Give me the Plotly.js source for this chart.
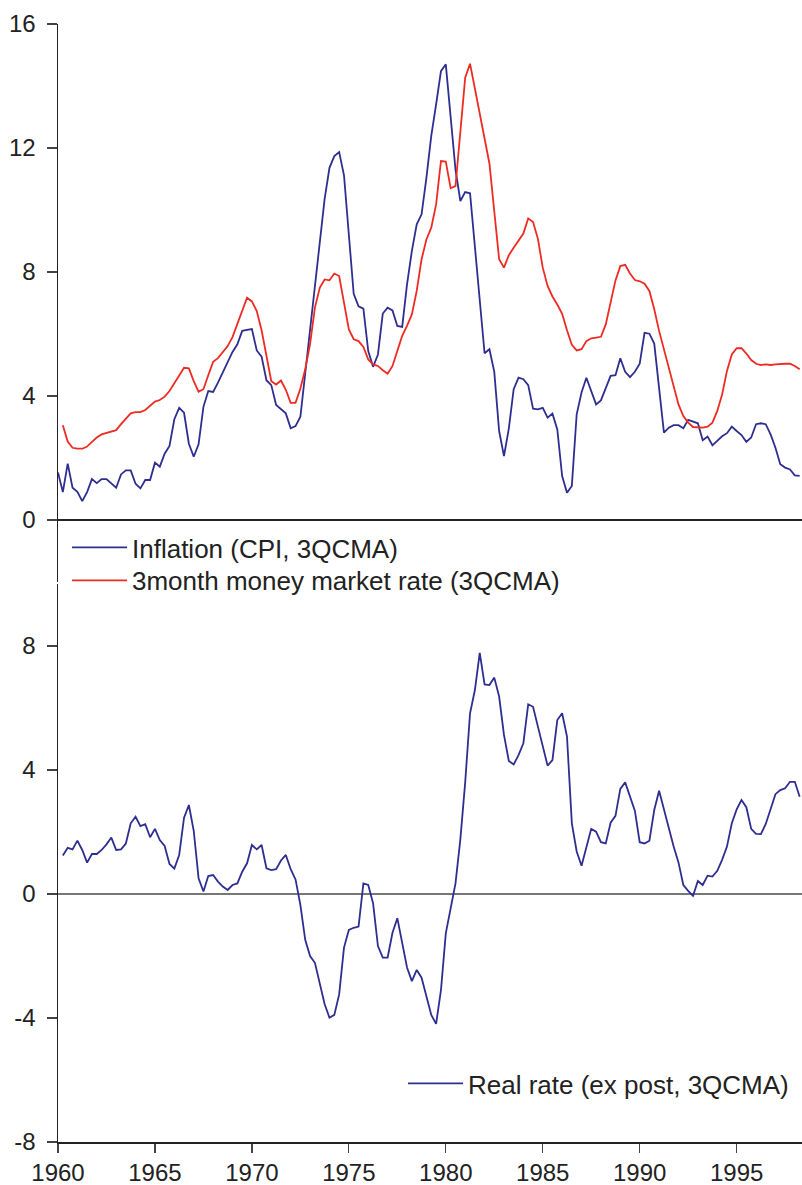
<!DOCTYPE html>
<html>
<head>
<meta charset="utf-8">
<script src="https://cdn.plot.ly/plotly-3.0.1.min.js"></script>
<style>
  html, body { margin: 0; padding: 0; background: #ffffff; }
  #chart { width: 802px; height: 1185px; }
</style>
</head>
<body>
<div id="chart"></div>
<script>
// Quarterly observations, first observation 1960Q1
const startYear = 1960;
const quarterStep = 0.25;

// Inflation (CPI, 3QCMA), %
const inflation = [
  1.53, 0.90, 1.82, 1.04, 0.91, 0.61, 0.90, 1.32, 1.19, 1.32,
  1.32, 1.18, 1.04, 1.47, 1.60, 1.60, 1.17, 1.02, 1.29, 1.29,
  1.85, 1.72, 2.14, 2.39, 3.25, 3.62, 3.46, 2.46, 2.04, 2.44,
  3.65, 4.16, 4.13, 4.43, 4.75, 5.07, 5.42, 5.67, 6.10, 6.13,
  6.16, 5.47, 5.27, 4.51, 4.35, 3.71, 3.56, 3.44, 2.96, 3.03,
  3.33, 4.70, 6.20, 7.50, 9.00, 10.35, 11.36, 11.74, 11.87, 11.12,
  9.20, 7.30, 6.89, 6.82, 5.45, 4.94, 5.34, 6.66, 6.85, 6.76,
  6.26, 6.23, 7.60, 8.68, 9.54, 9.86, 11.04, 12.39, 13.41, 14.48,
  14.70, 13.00, 11.30, 10.29, 10.58, 10.54, 8.82, 7.10, 5.38, 5.51,
  4.78, 2.87, 2.06, 2.95, 4.22, 4.59, 4.54, 4.35, 3.59, 3.57,
  3.62, 3.30, 3.43, 2.92, 1.42, 0.88, 1.10, 3.41, 4.11, 4.59,
  4.16, 3.73, 3.86, 4.27, 4.65, 4.67, 5.22, 4.78, 4.61, 4.78,
  5.04, 6.04, 6.01, 5.69, 4.20, 2.82, 2.98, 3.06, 3.06, 2.96,
  3.23, 3.17, 3.12, 2.57, 2.69, 2.41, 2.57, 2.70, 2.80, 3.01,
  2.87, 2.74, 2.52, 2.66, 3.09, 3.12, 3.09, 2.76, 2.33, 1.80,
  1.69, 1.63, 1.44, 1.42
];

// 3month money market rate (3QCMA), %
const moneyRate = [
  null, 3.06, 2.53, 2.33, 2.30, 2.30, 2.37, 2.52, 2.66, 2.76,
  2.81, 2.86, 2.90, 3.09, 3.28, 3.44, 3.48, 3.48, 3.55, 3.70,
  3.82, 3.87, 3.98, 4.16, 4.41, 4.70, 4.91, 4.89, 4.48, 4.14,
  4.22, 4.67, 5.10, 5.22, 5.40, 5.61, 5.90, 6.31, 6.76, 7.17,
  7.05, 6.74, 6.12, 5.29, 4.48, 4.37, 4.50, 4.20, 3.78, 3.78,
  4.24, 4.86, 5.67, 6.85, 7.49, 7.76, 7.73, 7.95, 7.87, 7.01,
  6.15, 5.83, 5.77, 5.58, 5.18, 5.02, 4.97, 4.83, 4.72, 4.97,
  5.45, 5.94, 6.26, 6.63, 7.39, 8.41, 9.05, 9.43, 10.18, 11.58,
  11.56, 10.70, 10.77, 12.40, 14.27, 14.72, 13.92, 13.19, 12.33, 11.50,
  9.96, 8.41, 8.14, 8.54, 8.78, 9.01, 9.24, 9.73, 9.61, 9.07,
  8.14, 7.55, 7.21, 6.95, 6.65, 6.12, 5.65, 5.47, 5.51, 5.77,
  5.86, 5.88, 5.91, 6.31, 6.99, 7.73, 8.19, 8.23, 7.95, 7.74,
  7.70, 7.62, 7.39, 6.80, 6.10, 5.51, 4.91, 4.32, 3.73, 3.35,
  3.14, 3.00, 2.98, 2.98, 3.01, 3.14, 3.52, 4.05, 4.81, 5.34,
  5.54, 5.54, 5.37, 5.16, 5.04, 5.00, 5.02, 5.00, 5.02, 5.04,
  5.04, 5.04, 4.97, 4.86
];

// Real rate (ex post, 3QCMA), %
const realRate = [
  null, 1.24, 1.49, 1.44, 1.72, 1.42, 1.01, 1.29, 1.29, 1.42,
  1.60, 1.82, 1.42, 1.44, 1.63, 2.28, 2.49, 2.19, 2.25, 1.83,
  2.10, 1.74, 1.55, 0.97, 0.82, 1.26, 2.46, 2.87, 2.04, 0.51,
  0.08, 0.58, 0.61, 0.40, 0.24, 0.13, 0.29, 0.34, 0.72, 0.99,
  1.58, 1.44, 1.58, 0.83, 0.77, 0.80, 1.08, 1.26, 0.80, 0.47,
  -0.35, -1.48, -2.00, -2.22, -2.88, -3.55, -3.99, -3.90, -3.24, -1.73,
  -1.16, -1.09, -1.05, 0.34, 0.29, -0.30, -1.68, -2.05, -2.05, -1.25,
  -0.78, -1.54, -2.37, -2.81, -2.45, -2.70, -3.31, -3.90, -4.19, -3.10,
  -1.27, -0.52, 0.34, 1.76, 3.60, 5.83, 6.58, 7.78, 6.76, 6.74,
  6.98, 6.37, 5.13, 4.29, 4.18, 4.48, 4.86, 6.12, 6.04, 5.40,
  4.75, 4.14, 4.32, 5.61, 5.83, 5.08, 2.28, 1.37, 0.91, 1.51,
  2.10, 2.01, 1.67, 1.63, 2.30, 2.52, 3.39, 3.60, 3.14, 2.69,
  1.67, 1.63, 1.72, 2.71, 3.33, 2.71, 2.06, 1.53, 1.02, 0.29,
  0.10, -0.06, 0.42, 0.29, 0.59, 0.56, 0.75, 1.10, 1.53, 2.28,
  2.73, 3.03, 2.80, 2.10, 1.94, 1.93, 2.26, 2.73, 3.22, 3.35,
  3.41, 3.62, 3.62, 3.14
];

// Series names and tick labels
const seriesNames = ['Inflation (CPI, 3QCMA)', '3month money market rate (3QCMA)', 'Real rate (ex post, 3QCMA)'];
const xTickVals = [1960, 1965, 1970, 1975, 1980, 1985, 1990, 1995];
const xTickText = ['1960', '1965', '1970', '1975', '1980', '1985', '1990', '1995'];
const topTickVals = [0, 4, 8, 12, 16];
const topTickText = ['0', '4', '8', '12', '16'];
const bottomTickVals = [-8, -4, 0, 4, 8];
const bottomTickText = ['-8', '-4', '0', '4', '8'];

const BLUE = '#2e2e90';
const RED = '#ee2b22';
const FONT = 'Liberation Sans, Arial, Helvetica, sans-serif';

const traces = [
  {
    type: 'scatter', mode: 'lines', name: seriesNames[0],
    x0: startYear, dx: quarterStep, y: inflation,
    xaxis: 'x', yaxis: 'y', legend: 'legend',
    line: {color: BLUE, width: 1.8}
  },
  {
    type: 'scatter', mode: 'lines', name: seriesNames[1],
    x0: startYear, dx: quarterStep, y: moneyRate,
    xaxis: 'x', yaxis: 'y', legend: 'legend3',
    line: {color: RED, width: 1.8}
  },
  {
    type: 'scatter', mode: 'lines', name: seriesNames[2],
    x0: startYear, dx: quarterStep, y: realRate,
    xaxis: 'x', yaxis: 'y2', legend: 'legend2',
    line: {color: BLUE, width: 1.8}
  }
];

const yCommon = {
  anchor: 'x',
  showgrid: false,
  showline: true, linecolor: '#222', linewidth: 1.5,
  ticks: 'outside', ticklen: 10, tickwidth: 1.2, tickcolor: '#444',
  tickmode: 'array',
  zeroline: true, zerolinewidth: 1.4,
  tickfont: {family: FONT, size: 24, color: '#222'},
  ticklabelstandoff: 6,
  fixedrange: true
};

const legendCommon = {
  xanchor: 'left', yanchor: 'top',
  bgcolor: 'rgba(0,0,0,0)', borderwidth: 0,
  itemwidth: 55,
  font: {family: FONT, size: 26, color: '#222'}
};

const layout = {
  width: 802, height: 1185,
  margin: {l: 58, r: 0, t: 24, b: 43, pad: 0},
  paper_bgcolor: '#ffffff', plot_bgcolor: '#ffffff',
  font: {family: FONT, size: 24, color: '#222'},
  xaxis: {
    anchor: 'y2',
    range: [1960, 1998.37],
    tickmode: 'array', tickvals: xTickVals, ticktext: xTickText,
    ticks: 'outside', ticklen: 9, tickwidth: 1.2, tickcolor: '#444',
    showline: true, linecolor: '#222', linewidth: 1.5,
    showgrid: false, zeroline: false,
    tickfont: {family: FONT, size: 24, color: '#222'},
    fixedrange: true
  },
  yaxis: Object.assign({}, yCommon, {
    domain: [0.50089, 1], range: [-2, 16],
    tickvals: topTickVals, ticktext: topTickText,
    zerolinecolor: '#222'
  }),
  yaxis2: Object.assign({}, yCommon, {
    domain: [0, 0.49911], range: [-8, 10],
    tickvals: bottomTickVals, ticktext: bottomTickText,
    zerolinecolor: '#777'
  }),
  legend: Object.assign({}, legendCommon, {x: 0.0121, y: 0.5528}),
  legend3: Object.assign({}, legendCommon, {x: 0.0121, y: 0.5233}),
  legend2: Object.assign({}, legendCommon, {x: 0.4637, y: 0.0733}),
  showlegend: true
};

Plotly.newPlot('chart', traces, layout, {displayModeBar: false, staticPlot: true});
</script>
</body>
</html>
